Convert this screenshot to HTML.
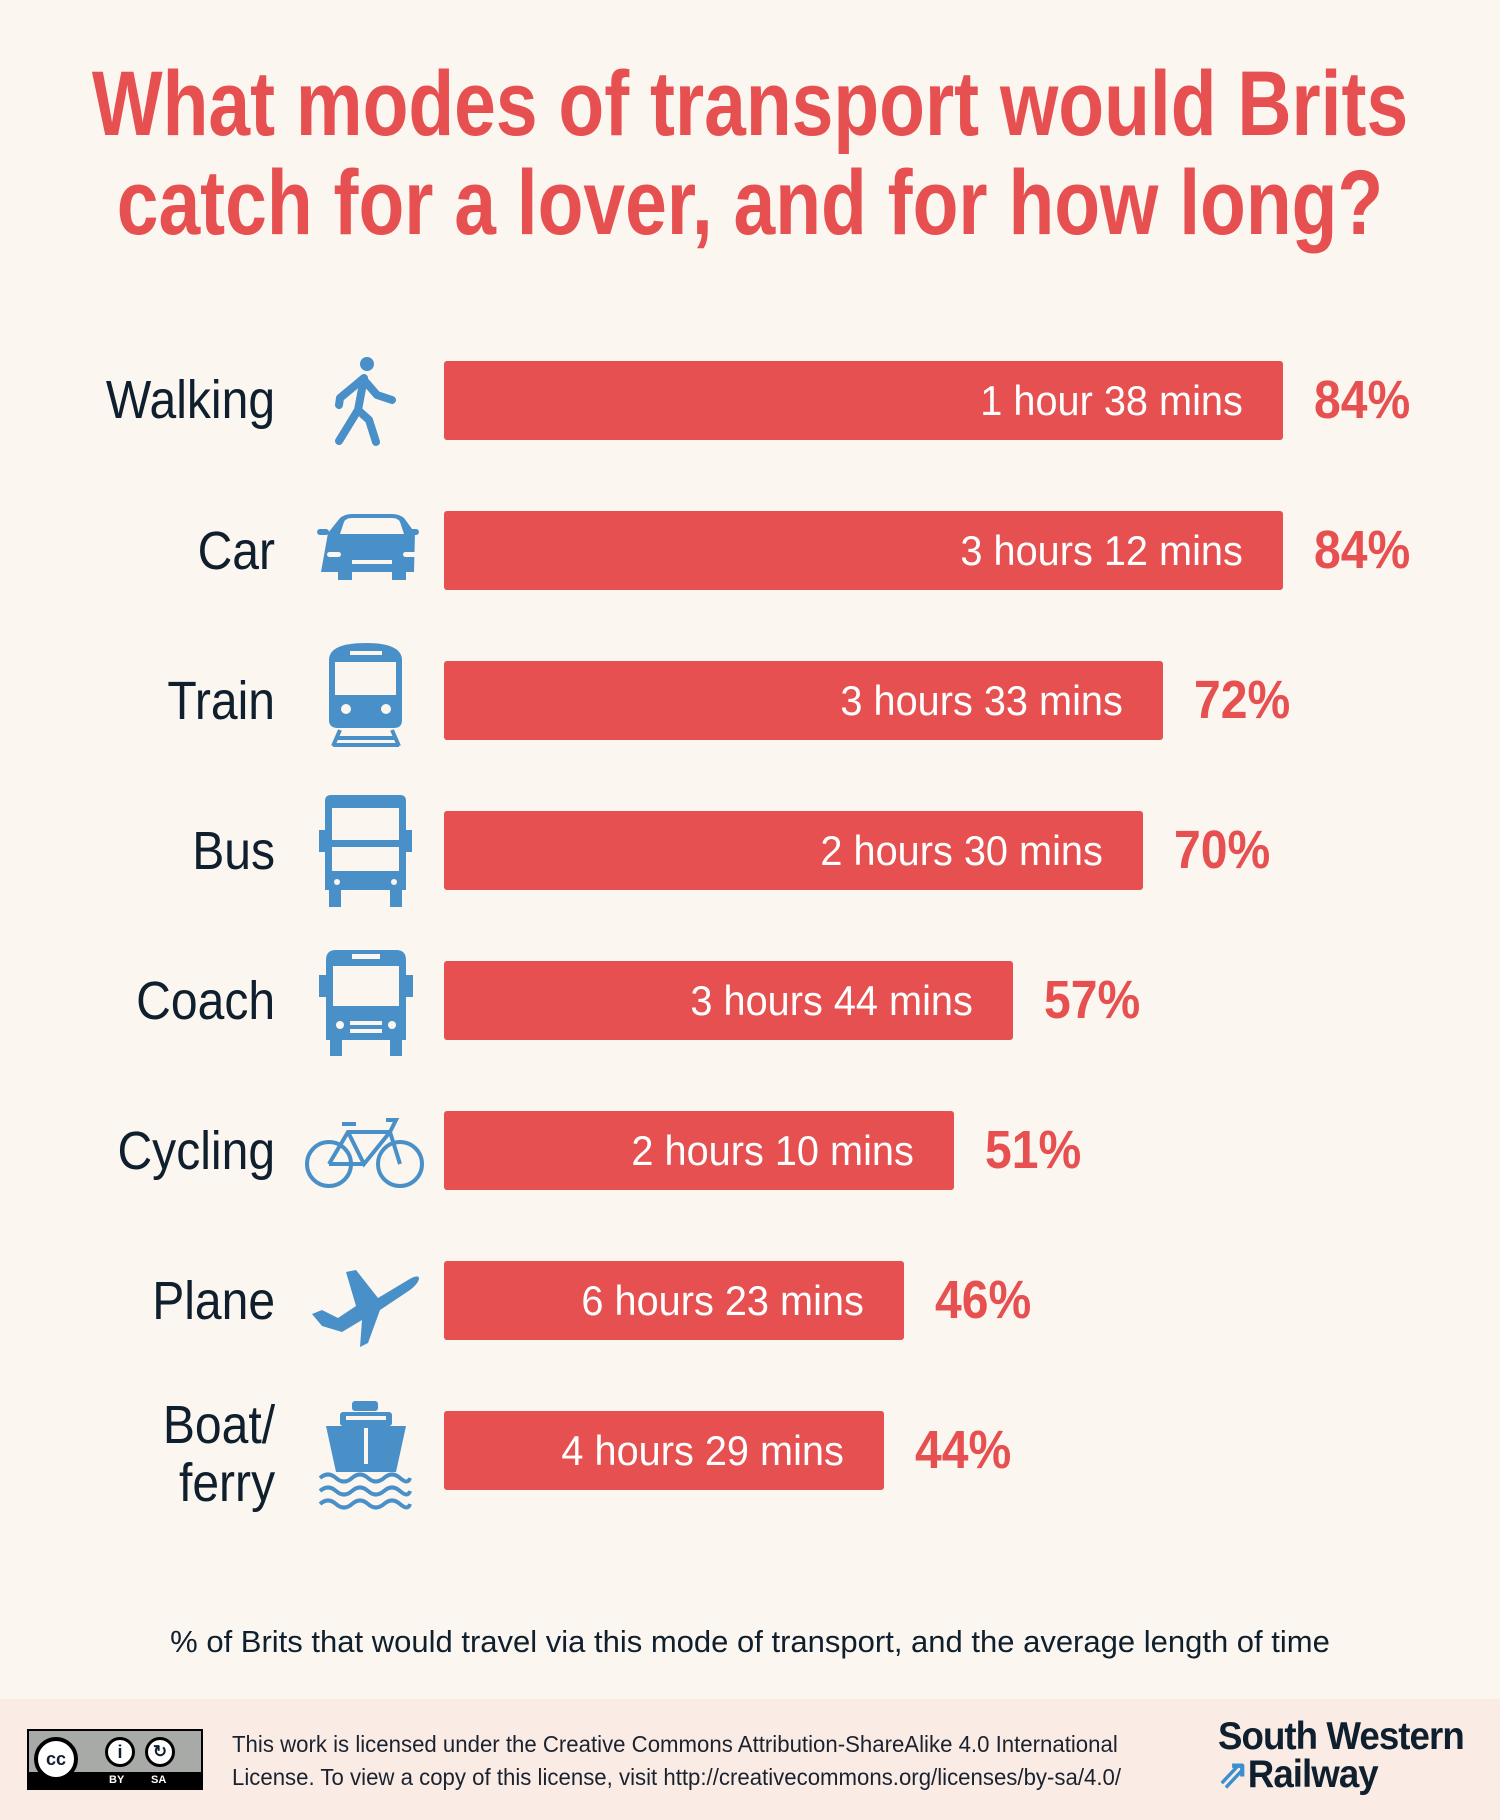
<!DOCTYPE html>
<html><head><meta charset="utf-8"><style>
*{margin:0;padding:0;box-sizing:border-box}
body{width:1500px;height:1820px;background:#fbf6ef;position:relative;overflow:hidden;font-family:"Liberation Sans",sans-serif;color:#0f1f2e}
.tl{position:absolute;left:750px;color:#e65050;font-weight:bold;font-size:92px;line-height:100px;white-space:nowrap;transform:translateX(-50%) scaleX(0.815);transform-origin:center}
.lab{position:absolute;right:1225px;font-size:54px;text-align:right;line-height:58px;white-space:nowrap;transform:scaleX(0.89);transform-origin:right center}
.bar{position:absolute;left:444px;height:79px;background:#e65050;border-radius:3px;color:#fff;font-size:42px;text-align:right;padding-right:40px;line-height:79px;white-space:nowrap}
.bar span{display:inline-block;transform:scaleX(0.945);transform-origin:right center}
.pct{position:absolute;color:#e65050;font-weight:bold;font-size:54px;line-height:79px;transform:scaleX(0.89);transform-origin:left center}
.foot{position:absolute;left:0;top:1699px;width:1500px;height:121px;background:#faece5}
</style></head><body>
<div class="tl" style="top:54px">What modes of transport would Brits</div>
<div class="tl" style="top:153px">catch for a lover, and for how long?</div>

<div class="lab" style="top:371px">Walking</div>
<div class="lab" style="top:522px">Car</div>
<div class="lab" style="top:672px">Train</div>
<div class="lab" style="top:822px">Bus</div>
<div class="lab" style="top:972px">Coach</div>
<div class="lab" style="top:1122px">Cycling</div>
<div class="lab" style="top:1272px">Plane</div>
<div class="lab" style="top:1396px">Boat/<br>ferry</div>

<div class="bar" style="top:361px;width:839px"><span>1 hour 38 mins</span></div>
<div class="bar" style="top:511px;width:839px"><span>3 hours 12 mins</span></div>
<div class="bar" style="top:661px;width:719px"><span>3 hours 33 mins</span></div>
<div class="bar" style="top:811px;width:699px"><span>2 hours 30 mins</span></div>
<div class="bar" style="top:961px;width:569px"><span>3 hours 44 mins</span></div>
<div class="bar" style="top:1111px;width:510px"><span>2 hours 10 mins</span></div>
<div class="bar" style="top:1261px;width:460px"><span>6 hours 23 mins</span></div>
<div class="bar" style="top:1411px;width:440px"><span>4 hours 29 mins</span></div>

<div class="pct" style="top:361px;left:1314px">84%</div>
<div class="pct" style="top:511px;left:1314px">84%</div>
<div class="pct" style="top:661px;left:1194px">72%</div>
<div class="pct" style="top:811px;left:1174px">70%</div>
<div class="pct" style="top:961px;left:1044px">57%</div>
<div class="pct" style="top:1111px;left:985px">51%</div>
<div class="pct" style="top:1261px;left:935px">46%</div>
<div class="pct" style="top:1411px;left:915px">44%</div>

<svg style="position:absolute;left:0;top:0" width="1500" height="1700" fill="#4a90c8" stroke="#4a90c8">
<circle cx="367" cy="364" r="7" stroke="none"/>
<path d="M364 378 L358 410 L339 441 M358 410 L369 420 L376 442 M364 378 L340 398 L339 405 M364 380 L377 395 L392 400" fill="none" stroke-width="8" stroke-linecap="round" stroke-linejoin="round"/>
<path d="M328 533 L340 518 Q345 514 352 514 L392 514 Q399 514 404 518 L415 533 L414 572 L406 572 L406 580 L392 580 L392 572 L352 572 L352 580 L338 580 L338 572 L321 572 Z" stroke="none"/>
<rect x="317" y="529" width="12" height="6" rx="3" stroke="none"/><rect x="407" y="529" width="12" height="6" rx="3" stroke="none"/>
<path d="M344 522 Q346 518 352 518 L392 518 Q398 518 400 522 L404 534 L340 534 Z" fill="#fbf6ef" stroke="none"/>
<rect x="327" y="552" width="14" height="5" rx="2.5" fill="#fbf6ef" stroke="none"/><rect x="403" y="552" width="14" height="5" rx="2.5" fill="#fbf6ef" stroke="none"/>
<rect x="352" y="560" width="40" height="4" fill="#fbf6ef" stroke="none"/>
<path d="M329 660 Q329 643 366 643 Q402 643 402 660 L402 720 Q402 728 394 728 L338 728 Q329 728 329 720 Z" stroke="none"/>
<rect x="335" y="662" width="61" height="33" fill="#fbf6ef" stroke="none"/>
<rect x="350" y="651" width="32" height="4" fill="#fbf6ef" stroke="none"/>
<circle cx="346" cy="709" r="5" fill="#fbf6ef" stroke="none"/><circle cx="386" cy="709" r="5" fill="#fbf6ef" stroke="none"/>
<path d="M340 730 L333 746 M392 730 L399 746 M337 738 L395 738 M333 745 L399 745" stroke-width="4" fill="none"/>
<path d="M325 801 Q325 795 331 795 L400 795 Q406 795 406 801 L406 890 L325 890 Z" stroke="none"/>
<rect x="319" y="830" width="6" height="22" stroke="none"/><rect x="406" y="830" width="6" height="22" stroke="none"/>
<rect x="332" y="808" width="67" height="32" fill="#fbf6ef" stroke="none"/>
<rect x="332" y="847" width="67" height="24" fill="#fbf6ef" stroke="none"/>
<rect x="329" y="888" width="12" height="19" stroke="none"/><rect x="390" y="888" width="12" height="19" stroke="none"/>
<circle cx="337" cy="882" r="3" fill="#fbf6ef" stroke="none"/><circle cx="394" cy="882" r="3" fill="#fbf6ef" stroke="none"/>
<path d="M326 960 Q326 950 336 950 L396 950 Q406 950 406 960 L406 1040 L326 1040 Z" stroke="none"/>
<rect x="319" y="975" width="7" height="22" stroke="none"/><rect x="406" y="975" width="7" height="22" stroke="none"/>
<rect x="333" y="966" width="66" height="40" fill="#fbf6ef" stroke="none"/>
<rect x="352" y="954" width="28" height="5" fill="#fbf6ef" stroke="none"/>
<rect x="350" y="1021" width="32" height="4" fill="#fbf6ef" stroke="none"/><rect x="350" y="1029" width="32" height="4" fill="#fbf6ef" stroke="none"/>
<circle cx="340" cy="1025" r="4" fill="#fbf6ef" stroke="none"/><circle cx="392" cy="1025" r="4" fill="#fbf6ef" stroke="none"/>
<rect x="330" y="1038" width="12" height="18" stroke="none"/><rect x="390" y="1038" width="12" height="18" stroke="none"/>
<g fill="none" stroke-width="4">
<circle cx="329" cy="1164" r="22"/><circle cx="400" cy="1164" r="22"/>
<path d="M329 1164 L348 1132 L390 1132 L400 1164 M348 1132 L364 1164 L390 1132 M364 1164 L329 1164 M342 1124 L356 1124 M386 1120 L396 1120 L390 1132"/>
</g>
<path d="M312 1314 L322 1310 L338 1318 L356 1306 L346 1272 L356 1270 L378 1298 L408 1280 Q418 1274 419 1278 Q419 1283 410 1290 L380 1310 L368 1343 L360 1347 L362 1320 L342 1332 L322 1326 Z" stroke="none"/>
<rect x="352" y="1401" width="26" height="10" rx="3" stroke="none"/>
<rect x="340" y="1412" width="52" height="14" rx="3" stroke="none"/>
<rect x="346" y="1416" width="40" height="4" fill="#fbf6ef" stroke="none"/>
<path d="M326 1426 L406 1426 L396 1472 L336 1472 Z" stroke="none"/>
<rect x="364" y="1428" width="4" height="36" fill="#fbf6ef" stroke="none"/>
<path d="M320 1478 q8 -7 16 0 t16 0 t16 0 t16 0 t16 0 t10 0 M320 1491 q8 -7 16 0 t16 0 t16 0 t16 0 t16 0 t10 0 M320 1504 q8 -7 16 0 t16 0 t16 0 t16 0 t16 0 t10 0" fill="none" stroke-width="4"/>
</svg>

<div style="position:absolute;left:0;width:1500px;top:1624px;text-align:center;font-size:31px">% of Brits that would travel via this mode of transport, and the average length of time</div>

<div class="foot"></div>
<div style="position:absolute;left:27px;top:1729px;width:176px;height:61px;background:#a8aaa8;border:2px solid #000">
 <div style="position:absolute;left:0;bottom:0;width:100%;height:16px;background:#000;color:#fff;font-size:11px;font-weight:bold;line-height:16px"><span style="position:absolute;left:80px">BY</span><span style="position:absolute;left:122px">SA</span></div>
 <div style="position:absolute;left:5px;top:6px;width:44px;height:44px;border-radius:50%;background:#fff;border:4px solid #000;font-weight:bold;font-size:18px;text-align:center;line-height:36px">cc</div>
 <div style="position:absolute;left:76px;top:6px;width:30px;height:30px;border-radius:50%;background:#fff;border:3px solid #000;font-weight:bold;font-size:18px;text-align:center;line-height:24px">i</div>
 <div style="position:absolute;left:116px;top:6px;width:30px;height:30px;border-radius:50%;background:#fff;border:3px solid #000;font-weight:bold;font-size:17px;text-align:center;line-height:24px">↻</div>
</div>
<div style="position:absolute;left:232px;top:1728px;font-size:23px;line-height:33px;color:#1a2230;white-space:nowrap;transform:scaleX(0.965);transform-origin:left center">This work is licensed under the Creative Commons Attribution-ShareAlike 4.0 International<br>License. To view a copy of this license, visit http://creativecommons.org/licenses/by-sa/4.0/</div>
<div style="position:absolute;left:1218px;top:1718px;font-size:39px;line-height:38px;font-weight:bold;color:#0f1f2e;letter-spacing:-1px;white-space:nowrap;transform:scaleX(0.94);transform-origin:left center">South Western<br><span style="color:#3a8fd0">⇗</span>Railway</div>
</body></html>
